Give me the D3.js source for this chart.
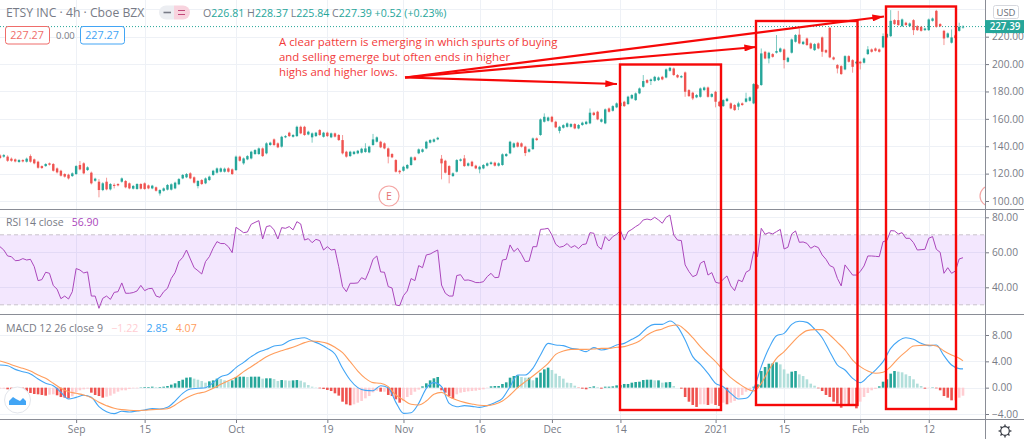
<!DOCTYPE html>
<html lang="en">
<head>
<meta charset="utf-8">
<title>ETSY 4h</title>
<script src="https://d3js.org/d3.v7.min.js"></script>
<style>
body { margin: 0; background: #fff; }
svg { display: block; }
text { font-family: "Open Sans", "Noto Sans", sans-serif; }
.axis path { display: none; }
.axis line { stroke: #787b86; }
.axis text { fill: #787b86; font-size: 10.2px; font-family: "Open Sans", sans-serif; }
.grid { stroke: #eef1f6; stroke-width: 1; }
.note { fill: #f23a3a; font-size: 11.4px; }
</style>
</head>
<body>
<div id="chart"></div>
<script>
// values, one entry per 4h bar
var candleOpen = [133.3,132.4,132.4,130.9,130.4,128.5,129.9,128.7,132.8,130.4,128.7,125.5,125.5,127.5,127,123.8,122.1,119.7,119.2,118.2,119.7,126.3,127.5,122.6,120.7,114.8,114.1,108,114.1,108.5,111.8,112.4,114.1,114.6,112.9,109,108.8,112.4,112.9,111.4,109.2,110,105.5,107.5,108.3,108.3,109.2,112.2,116.5,117.3,120.2,117.3,110.9,115.3,112.9,115.3,119,120.7,121.4,121.4,123.8,123.1,122.6,132.4,127.5,130.4,131.1,134.3,134.3,138.4,134.8,140.9,145,142.1,139.7,146.5,149.9,146.9,147.4,154.2,154.2,148.6,146.5,147.4,151.8,146.9,149.9,146.5,149.4,148.2,144.5,136,132.8,134.3,134.8,135.3,135.8,135.5,140.9,143.3,143.3,142.1,138.4,134.3,129.9,122.1,122.1,123.8,126.3,131.9,134.8,135.9,138.4,142.6,143.3,145,130.9,129.4,125.5,118.2,121.4,129.4,131.1,125.8,128.7,125.8,123.1,123.8,125.8,127,128,125.8,126.3,132.8,134.8,139.2,142.6,142.1,139.7,136,137.9,145.7,148.2,157.9,158.6,161.5,157.9,151.2,153.5,154.2,154.2,156.2,153,155.5,156.2,156.7,164.5,165.2,157.9,156.7,167.6,165.9,168.4,169.3,172.5,170.8,174.9,173.7,178.6,183.4,188.3,187.6,187.8,188.3,190.7,190.2,195.1,196.8,192,190.3,193.9,181,179.1,175.7,176.1,181,182.9,176.1,179.8,172.5,169.3,173,171.3,170.1,168.9,171.3,172.5,173.2,171.3,184.7,184.7,209,204.1,207.3,208.3,209,210.7,201.7,208.3,216.3,221.5,214.6,218.7,215.1,210.2,215.1,219.5,210.2,226.5,204.9,199.3,198.5,196.1,205.8,202.9,200.5,201.7,201,207.3,210.7,211.4,210.7,212.2,219.5,220.4,232.1,232.1,227.7,230.2,227.7,232.1,227.7,227.2,224.8,224.8,231.6,238.9,229.2,224.3,219.5,215.6,221,224.3,226.81];
var candleHigh = [134.2,134.3,133.4,131.8,131.1,130.6,130.5,131.7,134,131,129.4,126,127.6,128.1,127.7,124.5,122.8,120.3,119.9,120.9,126.2,129.2,128.3,125.3,121.5,117,116,113.7,117,113.1,112.9,113,117.2,115.3,113.5,111.7,113,113,113.6,112,111.8,110.6,108.6,109.9,112.4,112.9,114.1,116.8,119.7,120.4,121,118,115.3,116,117.2,118.5,122.8,124.5,124.5,124.4,124.6,123.8,133.2,133.1,131.8,133.5,136.7,137.9,139.1,139.1,142.9,143.3,145.7,142.8,147.6,148.1,150.6,148.9,155,155,154.9,151.3,150.1,150.5,152.5,150.5,150.6,150,150,148.9,148.2,136.7,136.7,136.6,137.3,138.9,142.2,140.4,149,147.2,144,142.8,139.1,135,130.6,122.8,125.7,127,132.6,132.6,138.4,138.3,144,145.2,145.7,146.9,133.6,130.1,126.2,120.9,130.6,131.1,133.6,128.2,129.4,126.5,125.7,127,128.2,128.9,128.7,128.2,134.8,135,144,142.8,143.3,142.8,140.4,138.4,146.4,146.4,160.3,164,161.7,162.2,158.6,154.9,156.1,157.4,156.9,156.9,156.2,157.9,158.6,167.6,165.2,165.9,160.3,167.6,168.3,170,172,172.5,173.2,176.9,178.1,179.3,182.9,192,189,189.5,191.4,190.9,191.4,196.8,198,197.5,192.7,191.9,194.6,181.7,179.8,178.1,182.9,183.6,183.6,178.8,180.5,173.2,174.4,175.4,172,170.8,172.5,172,179.1,176.4,186.1,185.4,211.4,209.7,209,208,221.2,212.1,211.4,205.3,218.7,221.9,226,217,219.4,215.8,215.3,215.8,220.2,210.9,227.2,205.6,200,199.2,206.5,206.5,203.6,202.4,202.4,204.8,213.1,211.4,212.1,211.4,222.4,222.6,239.4,232.8,238.9,233.3,230.9,230.4,232.8,228.4,227.9,226.7,233.3,234,239.6,229.9,225,223.1,225.3,221.7,230.2,228.37];
var candleLow = [130.6,131.6,128.6,128.7,128.2,127.9,128.2,128.1,128,126.8,123.6,123.4,125,125.9,121.5,120.1,117.9,117.1,115.7,117.6,119,122.4,119.5,122,112.1,114.1,102.7,107.2,107.8,107.7,109.2,110.7,113.4,109.3,108.6,108.4,108.2,108.4,108.2,108.6,108.6,106.9,103.9,106.9,107.7,107.7,108.6,111.6,115.9,116.7,115.9,112.7,109.2,111.7,112.3,114.7,118.4,120,120.8,120.8,120.8,119,121.9,128.8,126.5,129.8,130.4,133.7,133.7,132.2,134.1,140.3,140.2,138.6,139,145.9,146.8,146.3,146.8,148.8,147.6,148,142.6,146.8,147.6,146.3,146.8,145.9,146.4,143.9,134,131.7,132.2,133.7,134.2,134.7,135.2,134.9,140.3,142.7,138.6,137.8,127.5,131.3,120.8,119.7,121.5,123.2,125.7,129.3,134.2,135.3,137.8,142,142.7,144.4,115.8,120.1,112.9,117.6,120.8,128.8,124.9,125.2,124.9,123.2,120.2,123.2,125.2,126.4,125.2,125.2,125.7,132.2,134.2,138.6,139.1,139.1,132.8,135.4,137.3,143.9,147.6,157.3,158,157.3,153.2,149.4,152.9,153.6,153.6,152.4,152.4,154.9,155.6,156.1,162.2,159,157.3,156.1,164.6,165.3,167.8,168.7,168.7,170.2,174.3,173.1,178,182.8,185.8,184.7,187.2,187.7,188.2,189.6,194.5,191.4,189.7,189.7,176.1,176,173.7,175.1,175.5,180.4,175.5,175.5,168.4,168.7,168.7,172.4,167,165.8,166.4,169.5,171.9,172.6,170.7,181.6,184.1,203.5,200.5,204.7,207.7,208.4,196.8,201.1,207.7,215.7,214.5,214,213.3,210.8,209.6,210.8,205.3,207.9,204.3,202.8,193.2,192.1,195.5,201.1,193.7,199.9,196.1,200.4,206.7,208.4,209.1,208.4,211.6,218.9,219.8,228.6,227.9,227.1,227.9,227.1,221.2,224.2,223.7,224.2,224.2,231,226.6,227.1,213.9,218.9,215,218.4,223.7,225.84];
var candleClose = [131.4,133.5,129.4,129.4,128.9,129.9,128.9,130.9,128.7,127.5,124.3,124.1,127,126.5,122.1,120.9,118.5,117.8,116.5,120.2,125.5,123.1,120.2,124.6,112.9,116.3,108,112.9,108.5,112.4,111,111.4,116.5,110,109.2,111,112.4,109,108.8,109.2,111.2,107.5,108,109.2,111.7,112.2,113.4,116,119,119.7,116.5,113.4,114.6,112.4,116.5,117.8,122.1,123.8,123.8,123.6,121.4,119.7,132.4,129.4,131.1,132.8,136,137.2,138.4,132.8,142.1,142.6,140.9,139.2,146.9,147.4,147.4,148.2,154.2,149.4,148.2,150.6,149.4,149.9,148.2,149.9,147.4,149.4,147,144.5,134.8,132.4,136,136,136.7,138.2,138.4,139.7,145,146.5,139.2,138.4,132.4,131.9,121.4,121,125,126.3,131.9,129.9,137.7,137.7,143.3,144.5,145,146.2,127.5,120.7,119,120.2,129.9,130.4,125.5,127.5,125.5,123.8,125,126.3,127.5,128.2,125.8,127.5,134.1,134.3,143.3,142.1,139.7,139.7,135,137.7,145.7,144.5,159.6,161.5,161,157.9,153.8,154.2,155.4,156.7,156.2,153,155.5,157.2,157.9,164.5,162.8,159.6,159.6,166.9,165.2,169.3,171.3,171.8,169.3,176.2,177.4,178.6,182.2,187.6,186.4,188.8,190.7,190.2,188.8,196.1,197.3,192,190.3,191.2,179.8,176.6,174.9,177.4,182.2,182.9,176.1,178.1,172.5,169.3,173.7,174.7,167.6,166.4,171.3,170.1,174.9,175.7,185.4,182.2,207.8,204.1,208.3,205.3,209.5,211.4,202.9,204.6,218,221.2,215.1,216.3,213.9,211.4,214.6,211.4,209,208.5,204.9,203.4,196.8,192.7,205.8,201.7,198,201.7,200.5,204.1,210.7,209,209.7,209,220.4,221.9,231.6,229.2,228.5,232.6,228.5,229.7,224.8,224.8,224.3,226,232.6,233.3,227.2,227.7,218.7,222.4,219.5,219,227.2,227.39];

var rsiValues = [63.2,61.3,57.9,57.5,55.2,55.4,56.4,55.6,56,51.8,43.8,44.4,48.6,48,41,38.9,33.5,35,33.3,37.5,50.7,49.9,48.2,48.8,35,35,28,33.7,35,33.1,37.1,37.5,42.5,36.6,36.6,37,37.9,41.1,38.1,39.2,39.4,35,34.3,37.5,39.4,45.1,48.4,54.7,57.1,61.3,56.2,51.2,49.5,47.6,54.7,57.5,62.3,66.1,65,65,63.2,59.8,74.3,72.8,71.2,71.6,76,77.1,78.1,67.6,74.7,75.2,72.8,67.6,74.1,73.7,74.7,72.8,77.5,76.2,67,67.8,65.5,67.4,66.7,61.3,63.2,61.3,61.7,51.8,
  40.4,37.5,42.3,42.3,42.5,45.5,44.4,49.5,56,57.9,48.8,48.6,40.4,39.6,29.9,29.5,35.2,37.9,45,43.8,52.4,51.2,58.5,59,60.2,61.3,41.3,36.6,35,35,46.7,47.2,44,44.2,43.6,42.7,42.7,43.2,46.1,48,45.5,45.7,55.6,56,64.2,60.4,62.3,58.9,54.7,55,63.2,63.2,73.1,73.3,73.7,69.9,64.6,62.9,63.4,65,62.7,63.8,62.1,64.4,64.8,71.2,70.9,63.6,61.7,69,66.5,69,70.3,72.4,67,71.8,73.1,74.7,76,78.5,79,78.5,80,78.5,76.6,80,81.3,69.9,67,66.7,
  52.8,49,46.1,47,53.7,55,47,48.4,42.9,42.3,44.6,46.5,40.8,38.1,44.2,43.2,48.6,49.9,60.4,57.5,73.7,70.3,71.2,70.5,71.8,73.1,61.9,62.9,70.5,72.2,65.7,65.9,65.1,62.3,63.6,62.7,58.5,56,52.4,51.4,45.1,40.8,52.8,49.9,47,47,49,52.2,57.9,57.9,57.7,57.5,66.1,66.7,72.4,72.2,70.5,71.2,68,68,65.5,61.3,61.5,61.7,68,69,61.7,60,48,51.2,48,49.3,56.2,56.9];

// macd and signal read every second bar, the last entry is the final bar
var macdValues = [3.44,3.34,2.78,2.43,2.08,1.32,.66,.3,-.71,-1.72,-1.47,-1.16,-1.47,-2.89,-3.65,-3.95,-3.59,-3.7,-3.54,-3.39,-3.19,-3.24,-2.99,-2.03,-.86,-.2,-.1,0,.76,1.67,2.03,3.04,3.85,4.71,5.42,5.82,6.33,6.48,7.14,7.44,7.59,7.09,6.63,5.97,5.11,
  2.94,1.16,0,-.41,-.46,.3,0,-2.23,-3.9,-3.8,-2.38,-.1,.76,.15,-2.38,-2.89,-2.73,-2.84,-2.99,-2.73,-2.28,-1.62,.15,1.92,1.92,2.94,4.96,6.73,6.48,6.38,5.97,5.82,5.47,6.08,5.72,5.97,6.48,6.73,7.34,8,9.11,9.62,9.62,10.13,9.27,
  7.24,4.71,3.54,2.18,.66,.15,-.86,-1.72,-1.62,-.2,3.19,5.97,7.9,8.25,9.62,10.08,9.92,8.91,7.59,5.47,3.44,2.68,1.42,.76,1.67,2.68,3.95,5.97,7.09,7.59,7.34,6.73,6.38,6.48,4.86,3.44,2.89,2.85];
var signalValues = [4.05,3.7,3.29,2.94,2.53,1.92,1.42,.66,-.1,-.61,-.86,-1.11,-1.52,-2.23,-2.73,-3.14,-3.34,-3.44,-3.49,-3.44,-3.34,-3.29,-3.19,-2.63,-1.87,-1.27,-.86,-.61,-.1,.51,1.06,1.57,2.43,3.19,3.95,4.71,5.22,5.62,5.97,6.38,6.84,7.09,6.99,6.73,6.13,
  5.32,3.95,2.53,1.42,.76,.66,.15,-1.11,-1.87,-2.53,-2.63,-2.03,-1.01,-.71,-1.37,-1.87,-2.23,-2.48,-2.68,-2.73,-2.53,-2.03,-1.11,0,.91,1.77,2.68,3.7,5.06,5.57,5.82,5.82,5.82,5.87,5.97,5.97,6.13,6.23,6.58,7.09,8,8.61,8.91,9.37,9.52,
  8.76,7.59,6.23,5.06,3.95,2.68,1.52,.66,-.1,-.51,.66,2.68,4.46,5.47,6.73,7.9,8.66,8.81,8.81,8,6.89,5.72,4.2,3.19,2.53,2.18,2.33,3.19,4.46,5.47,6.33,6.43,6.48,6.33,5.57,4.96,4.46,4.07];
var histValues = [-.15,-.15,-.25,-.3,-.25,-.35,-.46,-.61,-.81,-.96,-1.01,-1.11,-1.21,-1.06,-1.01,-1.16,-1.42,-1.52,-1.62,-1.32,-.71,-.4,-.25,-.15,-.76,-1.11,-1.27,-1.52,-1.37,-1.21,-.91,-.61,-.4,-.4,-.2,-.1,-.1,.05,.1,.1,.15,.1,.1,.15,.25,.46,.66,1.01,1.21,1.52,1.57,1.37,1.21,1.01,.76,.96,1.11,1.37,1.32,1.11,.96,1.11,1.62,1.67,1.67,1.62,1.67,1.67,1.67,1.37,1.42,1.42,1.32,1.01,1.16,1.11,1.06,1.11,1.16,1.06,.81,.4,.15,.05,-.1,-.2,-.35,-.51,-.86,-1.21,
  -2.13,-2.53,-2.68,-2.53,-2.28,-2.02,-1.62,-1.27,-.71,-.46,-.61,-.61,-1.11,-1.27,-1.77,-2.28,-2.02,-1.42,-1.11,-.61,-.3,.2,.66,1.11,1.42,1.62,-.4,-.76,-1.27,-1.67,-1.01,-.76,-.66,-.56,-.51,-.46,-.35,-.25,-.05,.2,.25,.25,.56,.81,1.52,1.77,1.87,1.62,1.52,1.52,1.11,1.52,2.28,2.78,3.04,2.68,2.13,1.77,1.37,.76,.71,.3,-.05,-.15,-.25,.1,.2,.1,-.15,.15,.15,.2,.35,.4,.56,.56,.76,.86,.91,1.16,1.21,1.21,1.11,1.11,.76,.81,.86,.25,0,-.15,
  -1.42,-2.13,-2.63,-2.93,-2.53,-2.53,-2.63,-2.43,-2.63,-2.78,-2.28,-2.53,-2.28,-2.02,-1.52,-1.11,-.61,-.4,.15,.51,2.53,3.14,3.64,3.69,3.85,3.54,2.78,2.13,2.43,2.53,2.02,1.77,1.27,.61,.3,-.1,-.51,-1.11,-1.42,-2.13,-2.43,-3.04,-2.43,-2.78,-2.53,-3.14,-2.13,-1.42,-.81,-.4,-.2,.2,.91,1.27,2.13,2.53,2.43,2.33,2.02,1.77,1.27,.61,.25,-.15,-.05,.05,-.1,-.4,-1.27,-1.52,-1.92,-1.92,-1.52,-1.22];

var priceTicks = [100,120,140,160,180,200,220];
var rsiTicks = [40,60,80];
var macdTicks = [-4,0,4,8];
var timeTicks = [20,38,62,86,106,126,145,163,188,206,226,244];
var timeLabels = ["Sep","15","Oct","19","Nov","16","Dec","14","2021","15","Feb","12"];
var lastPrice = 227.39;

var width = 1024, height = 439;
var paneRight = 985, pane1Bottom = 209, pane2Bottom = 314, pane3Bottom = 419;

var svg = d3.select("#chart").append("svg")
    .attr("width", width)
    .attr("height", height);

svg.append("clipPath").attr("id", "paneClip")
  .append("rect").attr("x", 0).attr("y", 0).attr("width", paneRight).attr("height", pane3Bottom);

var x = d3.scaleLinear().domain([0, 253]).range([0, 963]);
var priceY = d3.scaleLinear().domain([100, 220]).range([201, 36.7]);
var rsiY = d3.scaleLinear().domain([40, 80]).range([287.3, 217.3]);
var macdY = d3.scaleLinear().domain([-4, 8]).range([414, 335]);

// grid first
var grid = svg.append("g");
grid.selectAll(".v").data(timeTicks).enter().append("line")
    .attr("class", "grid")
    .attr("x1", function(d) { return Math.round(x(d)) + 0.5; })
    .attr("x2", function(d) { return Math.round(x(d)) + 0.5; })
    .attr("y1", 0).attr("y2", pane3Bottom);

function hGrid(ticks, scale) {
    grid.selectAll(null).data(ticks).enter().append("line")
        .attr("class", "grid")
        .attr("x1", 0).attr("x2", paneRight)
        .attr("y1", function(d) { return Math.round(scale(d)) + 0.5; })
        .attr("y2", function(d) { return Math.round(scale(d)) + 0.5; });
}
hGrid(priceTicks.concat([240]), priceY);
hGrid(rsiTicks, rsiY);
hGrid(macdTicks, macdY);

var plot = svg.append("g").attr("clip-path", "url(#paneClip)");

// last price dotted line
plot.append("line")
    .attr("x1", 0).attr("x2", paneRight)
    .attr("y1", priceY(lastPrice)).attr("y2", priceY(lastPrice))
    .attr("stroke", "#26a69a").attr("stroke-width", 1).attr("stroke-dasharray", "1 2");

// candles
var upColor = "#26a69a", downColor = "#ef5350";
var candles = d3.range(candleOpen.length);
function candleColor(i) { return candleClose[i] >= candleOpen[i] ? upColor : downColor; }

plot.selectAll(".wick").data(candles).enter().append("line")
    .attr("x1", function(i) { return x(i); })
    .attr("x2", function(i) { return x(i); })
    .attr("y1", function(i) { return priceY(candleHigh[i]); })
    .attr("y2", function(i) { return priceY(candleLow[i]); })
    .attr("stroke", candleColor)
    .attr("stroke-opacity", 0.6);

plot.selectAll(".body").data(candles).enter().append("rect")
    .attr("x", function(i) { return x(i) - 1.2; })
    .attr("width", 2.4)
    .attr("y", function(i) { return priceY(Math.max(candleOpen[i], candleClose[i])); })
    .attr("height", function(i) { return Math.max(1, Math.abs(priceY(candleOpen[i]) - priceY(candleClose[i]))); })
    .attr("fill", candleColor);

// earnings markers
plot.append("circle").attr("cx", 389).attr("cy", 196).attr("r", 10)
    .attr("fill", "#fff").attr("stroke", "#f4a6a4").attr("stroke-width", 1.2);
plot.append("text").attr("x", 389).attr("y", 200).attr("text-anchor", "middle")
    .attr("font-size", 10.5).attr("fill", "#e57373").text("E");
plot.append("circle").attr("cx", 990).attr("cy", 196).attr("r", 10)
    .attr("fill", "#fff").attr("stroke", "#f4a6a4").attr("stroke-width", 1.2);

// rsi pane
plot.append("rect")
    .attr("x", 0).attr("width", paneRight)
    .attr("y", rsiY(70)).attr("height", rsiY(30) - rsiY(70))
    .attr("fill", "#8e24f5").attr("fill-opacity", 0.11);
plot.selectAll(".band").data([70, 30]).enter().append("line")
    .attr("x1", 0).attr("x2", paneRight)
    .attr("y1", function(d) { return rsiY(d); })
    .attr("y2", function(d) { return rsiY(d); })
    .attr("stroke", "#c9c4cc").attr("stroke-dasharray", "4 3");

var rsiLine = d3.line()
    .x(function(d, i) { return x(i); })
    .y(function(d) { return rsiY(d); });
plot.append("path").datum(rsiValues)
    .attr("d", rsiLine)
    .attr("fill", "none").attr("stroke", "#ab47bc").attr("stroke-width", 1);

// macd pane, histogram colour follows the change from the previous bar
function histColor(d, i) {
    var prev = i > 0 ? histValues[i - 1] : d;
    if (d >= 0) return d >= prev ? "#26a69a" : "#b2dfdb";
    return d < prev ? "#ef5350" : "#ffcdd2";
}
plot.selectAll(".hist").data(histValues).enter().append("rect")
    .attr("x", function(d, i) { return x(i) - 1.3; })
    .attr("width", 2.6)
    .attr("y", function(d) { return Math.min(macdY(d), macdY(0)); })
    .attr("height", function(d) { return Math.abs(macdY(d) - macdY(0)); })
    .attr("fill", histColor);

var macdLine = d3.line()
    .x(function(d, i) { return x(Math.min(i * 2, 253)); })
    .y(function(d) { return macdY(d); })
    .curve(d3.curveMonotoneX);
plot.append("path").datum(macdValues)
    .attr("d", macdLine)
    .attr("fill", "none").attr("stroke", "#42a5f5").attr("stroke-width", 1.1);
plot.append("path").datum(signalValues)
    .attr("d", macdLine)
    .attr("fill", "none").attr("stroke", "#ff9d5c").attr("stroke-width", 1.1);

// axes
function rightAxis(scale, ticks) {
    svg.append("g").attr("class", "axis")
        .attr("transform", "translate(" + paneRight + ",0)")
        .call(d3.axisRight(scale).tickValues(ticks).tickSize(4).tickPadding(3).tickFormat(d3.format(".2f")));
}
rightAxis(priceY, priceTicks);
rightAxis(rsiY, rsiTicks);
rightAxis(macdY, macdTicks);

svg.append("g").attr("class", "axis")
    .attr("transform", "translate(0," + pane3Bottom + ")")
    .call(d3.axisBottom(x).tickValues(timeTicks).tickSize(4).tickPadding(3)
        .tickFormat(function(d, i) { return timeLabels[i]; }));

svg.selectAll(".sep").data([pane1Bottom, pane2Bottom, pane3Bottom]).enter().append("line")
    .attr("x1", 0).attr("x2", width)
    .attr("y1", function(d) { return d + 0.5; }).attr("y2", function(d) { return d + 0.5; })
    .attr("stroke", "#8a8d96").attr("stroke-width", 1);
svg.append("line")
    .attr("x1", paneRight + 0.5).attr("x2", paneRight + 0.5)
    .attr("y1", 0).attr("y2", height)
    .attr("stroke", "#8a8d96");

// price tag and currency button
svg.append("rect").attr("x", paneRight).attr("y", priceY(lastPrice) - 6.5)
    .attr("width", 39).attr("height", 13).attr("fill", "#26a69a");
svg.append("text").attr("x", 1005).attr("y", priceY(lastPrice) + 3)
    .attr("text-anchor", "middle")
    .attr("fill", "#fff").attr("font-size", 9.8).attr("font-weight", 600).text("227.39");
svg.append("rect").attr("x", 993.5).attr("y", 5.5).attr("width", 25).attr("height", 13).attr("rx", 2)
    .attr("fill", "#fff").attr("stroke", "#d6d8de");
svg.append("text").attr("x", 1006).attr("y", 15.5).attr("text-anchor", "middle")
    .attr("fill", "#6b6f7a").attr("font-size", 9.5).text("USD");

// legends
function legend(px, py, parts, size) {
    var t = svg.append("text").attr("x", px).attr("y", py).attr("font-size", size).attr("xml:space", "preserve");
    parts.forEach(function(p) {
        t.append("tspan").attr("fill", p[1]).text(p[0]);
    });
}
var gray = "#787b86", green = "#26a69a";
legend(6, 17, [["ETSY INC · 4h · Cboe BZX", gray]], 12.2);
legend(203, 17, [["O", gray], ["226.81 ", green], ["H", gray], ["228.37 ", green], ["L", gray], ["225.84 ", green], ["C", gray], ["227.39 ", green], ["+0.52 (+0.23%)", green]], 10.6);
legend(6, 226, [["RSI 14 close   ", gray], ["56.90", "#ab47bc"]], 10.5);
legend(6, 332, [["MACD 12 26 close 9   ", gray], ["−1.22   ", "#ffcdd2"], ["2.85   ", "#42a5f5"], ["4.07", "#ff9d5c"]], 10.6);

// toggle pill
svg.append("path").attr("d", "M174 5.5H166a7 7 0 0 0 0 14h8z").attr("fill", "#eceef2");
svg.append("path").attr("d", "M174 5.5h9a7 7 0 0 1 0 14h-9z").attr("fill", "#f8d3de");
svg.append("line").attr("x1", 163.5).attr("x2", 171).attr("y1", 12.5).attr("y2", 12.5)
    .attr("stroke", "#787b86").attr("stroke-width", 1.6);
svg.append("path").attr("d", "M178 10.5h7M178 14.5h7").attr("stroke", "#c2497a").attr("stroke-width", 1.2);

// value chips
function chip(px, w, label, color) {
    svg.append("rect").attr("x", px + 0.5).attr("y", 26.5).attr("width", w).attr("height", 17.5).attr("rx", 2.5)
        .attr("fill", "#fff").attr("stroke", color);
    svg.append("text").attr("x", px + w / 2).attr("y", 39.2).attr("text-anchor", "middle")
        .attr("fill", color).attr("font-size", 10.8).text(label);
}
chip(5, 44, "227.27", "#ef6d6a");
chip(80, 44, "227.27", "#42a5f5");
svg.append("text").attr("x", 56).attr("y", 39.2).attr("fill", gray).attr("font-size", 9.5).text("0.00");

// logo and settings
svg.append("circle").attr("cx", 17.5).attr("cy", 400).attr("r", 13)
    .attr("fill", "#fff").attr("stroke", "#e3e6ec");
svg.append("path").attr("d", "M9 405v-4l4-4 3 2 4 2 3-3 3 3v4z").attr("fill", "#42a5f5");
var gear = svg.append("g").attr("transform", "translate(1005,431)");
gear.append("circle").attr("r", 4.3).attr("fill", "none").attr("stroke", "#3c3f48").attr("stroke-width", 1.2);
gear.selectAll("line").data(d3.range(8)).enter().append("line")
    .attr("x1", 0).attr("x2", 0).attr("y1", -4.3).attr("y2", -6.4)
    .attr("transform", function(d) { return "rotate(" + d * 45 + ")"; })
    .attr("stroke", "#3c3f48").attr("stroke-width", 1.4);

// hand drawn notes on top
var red = "#f60808";
var defs = svg.append("defs");
defs.append("marker").attr("id", "head")
    .attr("viewBox", "0 0 10 6").attr("refX", 10).attr("refY", 3)
    .attr("markerUnits", "userSpaceOnUse")
    .attr("markerWidth", 12).attr("markerHeight", 7).attr("orient", "auto")
  .append("path").attr("d", "M0 0L10 3L0 6z").attr("fill", red);

svg.selectAll(".box").data([[620, 64.5, 721, 410], [756, 21, 857.5, 405], [886, 6.5, 956, 409]]).enter().append("rect")
    .attr("x", function(d) { return d[0]; })
    .attr("y", function(d) { return d[1]; })
    .attr("width", function(d) { return d[2] - d[0]; })
    .attr("height", function(d) { return d[3] - d[1]; })
    .attr("fill", "none").attr("stroke", red).attr("stroke-width", 2.4);

svg.selectAll(".arrow").data([[617, 84], [756, 47], [884, 16.5]]).enter().append("line")
    .attr("x1", 405).attr("y1", 77.5)
    .attr("x2", function(d) { return d[0]; })
    .attr("y2", function(d) { return d[1]; })
    .attr("stroke", red).attr("stroke-width", 2.2)
    .attr("marker-end", "url(#head)");

var noteLines = ["A clear pattern is emerging in which spurts of buying", "and selling emerge but often ends in higher", "highs and higher lows."];
svg.selectAll(".note").data(noteLines).enter().append("text")
    .attr("class", "note")
    .attr("x", 279)
    .attr("y", function(d, i) { return 45.5 + i * 15.3; })
    .text(function(d) { return d; });
</script>
</body>
</html>
